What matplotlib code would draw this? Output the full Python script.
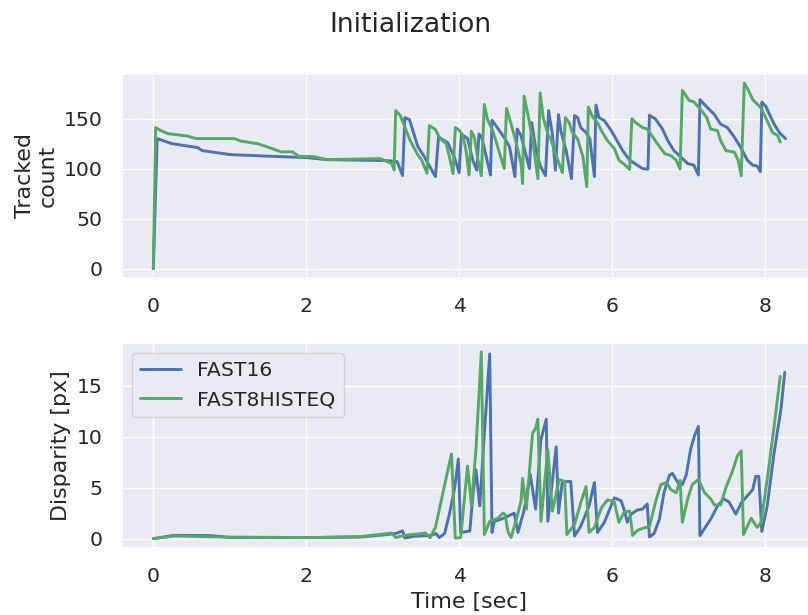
import matplotlib
matplotlib.use("Agg")
import matplotlib.pyplot as plt
import seaborn as sns

# Tracked count, FAST16 (time in sec, count)
fast16_count_t = [0, 0.05, 0.24, 0.58, 0.64, 1.01, 1.49, 2.01, 2.27, 3.06, 3.19, 3.26, 3.29, 3.35,
                  3.46, 3.54, 3.69, 3.73, 3.85, 3.94, 4.00, 4.03, 4.11, 4.18, 4.23, 4.26, 4.30, 4.41,
                  4.43, 4.50, 4.59, 4.66, 4.73, 4.76, 4.81, 4.87, 4.92, 4.95, 5.00, 5.06, 5.13, 5.17,
                  5.22, 5.26, 5.30, 5.33, 5.40, 5.47, 5.51, 5.55, 5.59, 5.66, 5.71, 5.77, 5.79, 5.83,
                  5.90, 5.99, 6.05, 6.14, 6.23, 6.33, 6.40, 6.47, 6.49, 6.57, 6.66, 6.73, 6.81, 6.90,
                  6.99, 7.07, 7.13, 7.15, 7.21, 7.34, 7.42, 7.51, 7.60, 7.68, 7.77, 7.84, 7.90, 7.94,
                  7.96, 8.01, 8.12, 8.19, 8.27]
fast16_count = [0, 130, 125, 121, 118, 114, 112.5, 111, 109, 108, 107, 93, 151, 149,
                122, 112.5, 92, 131.5, 126, 111, 96, 134.6, 130, 108, 98.5, 134.6, 130, 93.6,
                148.4, 141, 131, 121.6, 92, 139.6, 133, 115, 100, 146, 121, 103, 93, 158,
                134.6, 98.5, 154, 138, 118, 90, 153, 151, 141, 136, 129.7, 92, 163.5, 151,
                148, 138, 130, 118, 108.5, 103.5, 100, 99.5, 153.4, 149.5, 139.6, 128, 118, 111.7,
                105, 103.5, 93.6, 169, 164, 154, 144.5, 141, 131.5, 121.6, 108.5, 103.5, 102.5, 97,
                166.5, 162.5, 144.5, 136, 130]

# Tracked count, FAST8HISTEQ
histeq_count_t = [0, 0.03, 0.10, 0.19, 0.45, 0.56, 1.06, 1.14, 1.27, 1.36, 1.49, 1.67, 1.82, 1.90,
                  2.10, 2.27, 2.97, 3.06, 3.12, 3.15, 3.17, 3.23, 3.36, 3.45, 3.51, 3.58, 3.61, 3.69,
                  3.75, 3.83, 3.87, 3.92, 3.95, 4.00, 4.05, 4.09, 4.13, 4.16, 4.20, 4.24, 4.29, 4.33,
                  4.37, 4.44, 4.50, 4.59, 4.62, 4.68, 4.74, 4.81, 4.83, 4.85, 4.90, 4.96, 5.03, 5.06,
                  5.10, 5.16, 5.20, 5.26, 5.35, 5.39, 5.44, 5.48, 5.55, 5.62, 5.67, 5.69, 5.75, 5.81,
                  5.86, 5.94, 6.03, 6.09, 6.16, 6.23, 6.26, 6.31, 6.40, 6.46, 6.58, 6.69, 6.77, 6.84,
                  6.89, 6.92, 7.01, 7.07, 7.16, 7.24, 7.29, 7.38, 7.42, 7.49, 7.60, 7.65, 7.69, 7.73,
                  7.78, 7.84, 7.95, 8.03, 8.10, 8.17, 8.20]
histeq_count = [0, 141, 138, 135, 132.5, 130, 130, 127.6, 126, 125, 121.7, 116.8, 116.8, 112.5,
                112, 109, 110, 107, 105, 98.7, 158, 153, 128, 115, 108.5, 95.4, 143, 139,
                130, 125, 113, 95, 141, 138.5, 133, 118, 93.6, 137.3, 131, 111.7, 93, 164.2,
                149.4, 137.9, 123, 100, 160.3, 144.5, 128, 105, 85, 172.4, 154.3, 129.7, 90, 175.7,
                151, 134.6, 129.7, 115, 96, 151, 146, 136.3, 129.7, 111.7, 82, 161.5, 151, 146,
                138, 128, 120, 108.5, 104.4, 99.2, 150, 146, 141, 139.6, 126.4, 114.9, 113, 108.5,
                99.5, 178.3, 168, 166.8, 159, 151, 139.6, 138, 128, 118, 116.5, 108.5, 92.8, 185.5,
                179, 169, 160.7, 147.8, 136, 133, 126.5]

# Disparity [px], FAST16
fast16_disp_t = [0, 0.27, 0.75, 1.02, 2.02, 2.72, 3.06, 3.17, 3.26, 3.29, 3.41, 3.63, 3.70, 3.74,
                 3.81, 3.87, 3.94, 3.99, 4.02, 4.14, 4.18, 4.22, 4.27, 4.33, 4.40, 4.43, 4.46, 4.55,
                 4.64, 4.72, 4.77, 4.85, 4.93, 5.00, 5.07, 5.14, 5.16, 5.27, 5.30, 5.35, 5.46, 5.51,
                 5.59, 5.70, 5.77, 5.81, 5.90, 6.03, 6.12, 6.16, 6.20, 6.25, 6.33, 6.40, 6.46, 6.49,
                 6.55, 6.62, 6.68, 6.75, 6.79, 6.86, 6.92, 6.97, 7.03, 7.08, 7.13, 7.15, 7.22, 7.29,
                 7.38, 7.46, 7.53, 7.62, 7.69, 7.77, 7.84, 7.88, 7.92, 7.96, 8.03, 8.12, 8.21, 8.26]
fast16_disp = [0, 0.32, 0.3, 0.1, 0.1, 0.16, 0.4, 0.5, 0.75, 0.06, 0.23, 0.32, 0.5, 0.1,
               0.5, 2.3, 4.9, 7.8, 0.6, 0.75, 4.2, 6.75, 3.2, 10.3, 18.1, 0.6, 1.7, 1.9,
               2.2, 2.5, 0.6, 2.8, 6.3, 2.9, 9.7, 11.7, 1.7, 9.0, 2.5, 5.6, 5.6, 0.26,
               1.2, 3.2, 5.5, 0.6, 1.6, 4.0, 3.7, 2.8, 1.6, 2.4, 2.8, 2.9, 3.4, 0.16,
               0.5, 1.9, 4.5, 6.2, 6.4, 5.5, 5.3, 6.2, 8.8, 10.1, 11.0, 0.3, 1.1, 1.9,
               3.2, 3.9, 3.6, 2.4, 3.5, 4.2, 4.8, 6.1, 6.1, 0.7, 3.2, 8.4, 12.7, 16.3]

# Disparity [px], FAST8HISTEQ
histeq_disp_t = [0, 0.27, 0.88, 2.02, 2.72, 3.12, 3.17, 3.27, 3.56, 3.62, 3.69, 3.80, 3.90, 3.95,
                 4.02, 4.11, 4.16, 4.22, 4.29, 4.33, 4.40, 4.51, 4.57, 4.60, 4.64, 4.68, 4.77, 4.81,
                 4.83, 4.88, 4.96, 5.00, 5.03, 5.07, 5.16, 5.22, 5.31, 5.38, 5.41, 5.51, 5.59, 5.66,
                 5.70, 5.77, 5.86, 5.94, 6.03, 6.09, 6.16, 6.23, 6.27, 6.33, 6.40, 6.49, 6.58, 6.64,
                 6.71, 6.77, 6.84, 6.89, 6.92, 6.99, 7.05, 7.13, 7.21, 7.29, 7.34, 7.42, 7.49, 7.57,
                 7.64, 7.69, 7.72, 7.82, 7.90, 7.95, 8.03, 8.12, 8.20]
histeq_disp = [0, 0.26, 0.16, 0.1, 0.2, 0.55, 0.1, 0.3, 0.55, 0.1, 1.1, 4.9, 8.3, 0.05,
               0.1, 7.1, 3.3, 8.7, 18.3, 0.4, 1.7, 2.0, 2.5, 2.4, 0.65, 0.1, 2.5, 3.7,
               5.9, 2.9, 10.3, 10.8, 11.7, 1.7, 8.7, 2.7, 5.8, 5.6, 0.4, 1.4, 3.5, 5.1,
               0.6, 1.1, 3.0, 3.8, 3.6, 1.6, 2.6, 2.7, 0.3, 0.8, 1.0, 1.2, 3.9, 5.3,
               5.5, 4.8, 4.5, 5.7, 1.6, 3.9, 5.3, 5.8, 4.5, 3.9, 3.3, 3.3, 5.0, 6.5,
               8.1, 8.6, 0.4, 2.0, 1.1, 1.6, 5.8, 11.0, 15.9]

sns.set(font_scale=1.33)
blue, green = sns.color_palette("deep")[0], sns.color_palette("deep")[2]
lw = 2.1

fig = plt.figure(figsize=(8.08, 6.15), dpi=100)
# axes run past the right edge of the figure, as in the cropped original
ax1 = fig.add_axes([0.151, 0.548, 0.86, 0.332])
ax2 = fig.add_axes([0.151, 0.109, 0.86, 0.334])

ax1.plot(fast16_count_t, fast16_count, color=blue, lw=lw, label="FAST16")
ax1.plot(histeq_count_t, histeq_count, color=green, lw=lw, label="FAST8HISTEQ")
ax1.set_ylabel("Tracked\ncount")
ax1.set_yticks([0, 50, 100, 150])

ax2.plot(fast16_disp_t, fast16_disp, color=blue, lw=lw, label="FAST16")
ax2.plot(histeq_disp_t, histeq_disp, color=green, lw=lw, label="FAST8HISTEQ")
ax2.set_ylabel("Disparity [px]")
ax2.set_xlabel("Time [sec]")
ax2.set_yticks([0, 5, 10, 15])
ax2.legend(loc="upper left")

for ax in (ax1, ax2):
    ax.set_xlim(-0.41, 8.68)
    ax.set_xticks([0, 2, 4, 6, 8])
    ax.tick_params(axis="both", pad=8)

fig.suptitle("Initialization", x=0.508, y=0.98)

fig.savefig("out.png", dpi=100)
